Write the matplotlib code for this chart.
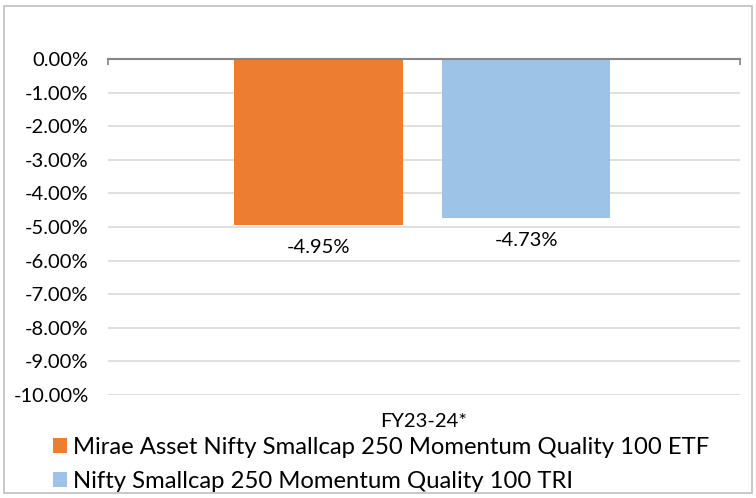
import matplotlib
matplotlib.use("Agg")
import matplotlib.pyplot as plt
from matplotlib.patches import Rectangle, Patch
from matplotlib.ticker import FuncFormatter

categories = ["FY23-24*"]
series_names = ["Mirae Asset Nifty Smallcap 250 Momentum Quality 100 ETF",
                "Nifty Smallcap 250 Momentum Quality 100 TRI"]
etf_values = [-4.95]
tri_values = [-4.73]
colors = ["#ED7D31", "#9DC3E6"]

plt.rcParams['font.family'] = ['Lato', 'DejaVu Sans']

W, H = 756, 498
fig = plt.figure(figsize=(W / 100, H / 100), dpi=100)
ax = fig.add_axes([108 / W, 1 - 395 / H, (740 - 108) / W, (395 - 59) / H])

width = 0.266
offsets = [-0.167, 0.162]
for vals, off, col in zip([etf_values, tri_values], offsets, colors):
    xs = [i + off for i in range(len(categories))]
    bars = ax.bar(xs, vals, width=width, color=col, zorder=3)
    for b, v in zip(bars, vals):
        ax.annotate(f"{v:.2f}%", (b.get_x() + b.get_width() / 2, v),
                    xytext=(0, -10), textcoords="offset points",
                    ha="center", va="top", fontsize=14.5, color="#000000")

ax.set_xlim(-0.5, len(categories) - 0.5)
ax.set_ylim(-10, 0)
ax.set_yticks([-i for i in range(0, 11)])
ax.yaxis.set_major_formatter(FuncFormatter(lambda v, p: f"{v:.2f}%" if v != 0 else "0.00%"))
ax.yaxis.grid(True, color="#D9D9D9", linewidth=1.2, zorder=0)
ax.set_xticks(range(len(categories)))
ax.set_xticklabels(categories)
ax.tick_params(axis="y", length=0, pad=14, labelsize=14.5)
ax.tick_params(axis="x", length=0, pad=13, labelsize=14.5)
ax.set_xticks([-0.5, len(categories) - 0.5], minor=True)
ax.tick_params(axis="x", which="minor", top=True, bottom=False, direction="in",
               length=4, color="#868686", width=1.2)
for s in ["left", "right", "bottom"]:
    ax.spines[s].set_visible(False)
ax.spines["top"].set_color("#868686")
ax.spines["top"].set_linewidth(1.5)
ax.spines["top"].set_zorder(4)

handles = [Patch(facecolor=c, edgecolor="none") for c in colors]
fig.legend(handles, series_names, loc="upper left", bbox_to_anchor=(53 / W, 1 - 437 / H),
           frameon=False, fontsize=17.2, handlelength=0.6, handleheight=0.6,
           handletextpad=0.25, labelspacing=0.55, borderaxespad=0, borderpad=0)

fig.add_artist(Rectangle((4 / W, 5 / H), (752 - 4) / W, (H - 6) / H - 5 / H,
                         transform=fig.transFigure, fill=False,
                         edgecolor="#BFBFBF", linewidth=1.2))

fig.savefig("out.png", dpi=100)
